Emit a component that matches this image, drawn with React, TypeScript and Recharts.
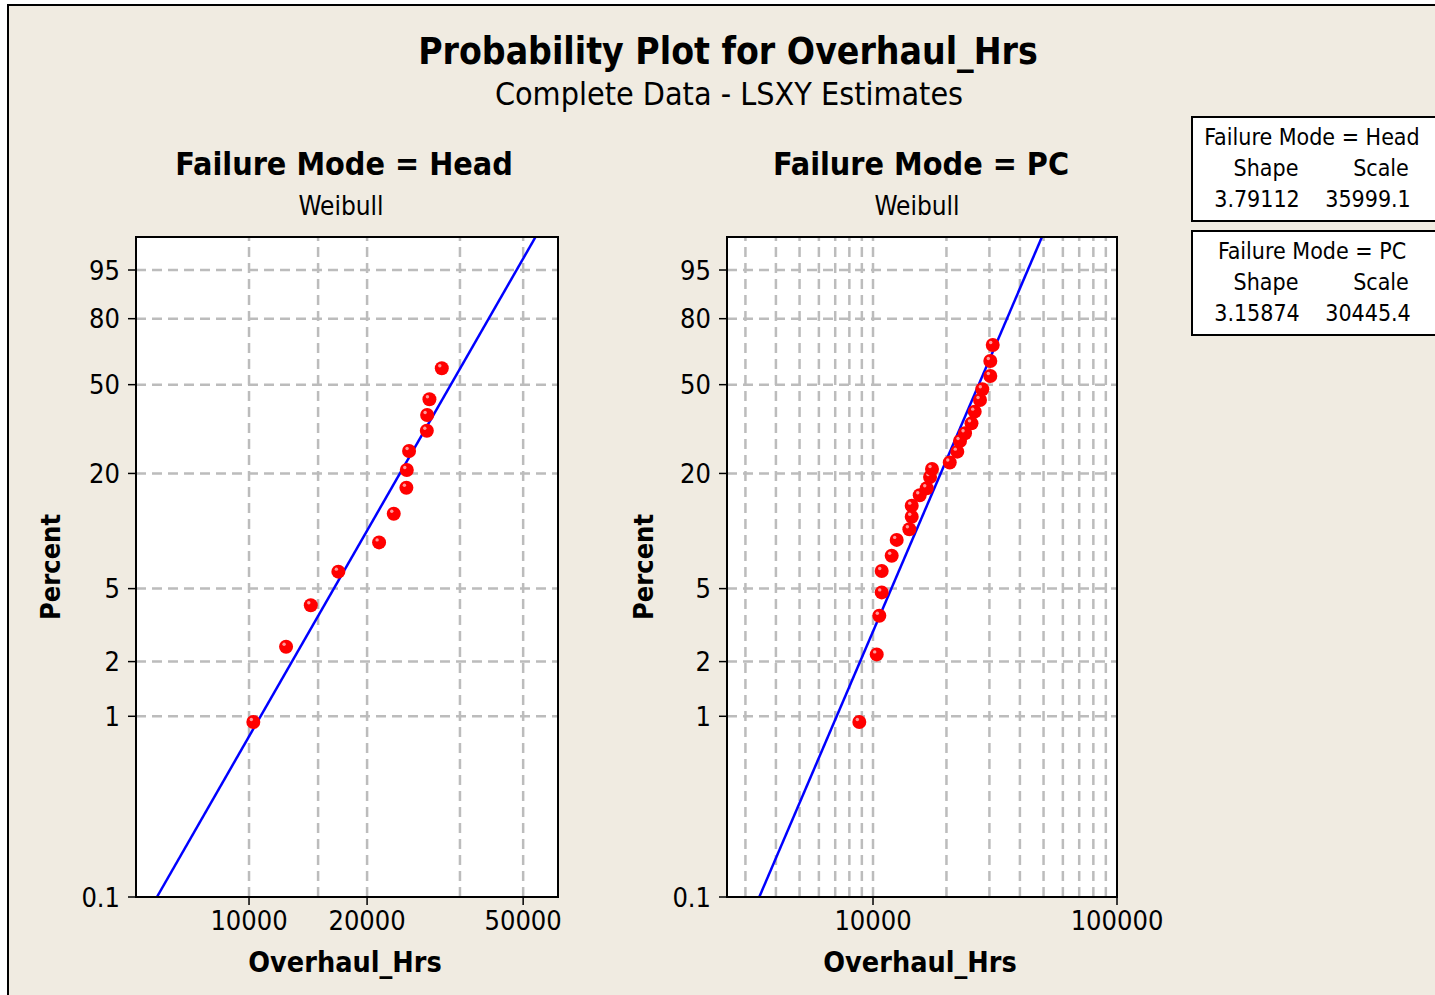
import React from 'react';
import { ScatterChart, Scatter, XAxis, YAxis, ReferenceLine } from 'recharts';

// Head failure mode: hours and plotted percent
const headHrs = [10256, 12430, 14370, 16895, 21460, 23390, 25190, 25250, 25590, 28400, 28450, 28840, 31010];
const headPct = [0.93, 2.41, 4.06, 6.17, 8.84, 12.49, 16.97, 20.79, 25.72, 31.97, 37.53, 43.73, 57.46];

// PC failure mode
const pcHrs = [8788, 10355, 10612, 10856, 10856, 11928, 12504, 14090, 14410, 14410, 15540, 16600, 17130,
  17450, 20630, 22150, 22730, 23830, 25330, 26110, 27450, 28050, 30250, 30250, 30950];
const pcPct = [0.93, 2.19, 3.56, 4.77, 6.22, 7.51, 9.11, 10.36, 12.05, 13.75, 15.53, 16.86, 19.21,
  21.04, 22.63, 25.52, 28.64, 31.11, 34.49, 38.8, 43.45, 47.99, 53.89, 60.85, 68.33];

// fitted Weibull lines (end points at the plot edges)
const headFitHrs = [5823, 53770];
const headFitPct = [0.1, 98.96];
const pcFitHrs = [3419, 49240];
const pcFitPct = [0.1, 98.96];

const yTickPct = [0.1, 1, 2, 5, 20, 50, 80, 95];
const yTickLabels = ['0.1', '1', '2', '5', '20', '50', '80', '95'];
const yGridPct = [1, 2, 5, 20, 50, 80, 95];

const headXTicks = [10000, 20000, 50000];
const headXGrid = [10000, 15000, 20000, 34500, 50000];
const pcXTicks = [10000, 100000];
const pcXGrid = [3000, 4000, 5000, 6000, 7000, 8000, 9000, 10000, 20000, 30000, 40000, 50000, 60000, 70000, 80000, 90000];

const FONT = "'DejaVu Sans Condensed', 'Noto Sans', sans-serif";
const BG = '#F0EBE1';
const GRID = '#bcbcbc';

// weibull probability paper transform
const weib = (p: number) => Math.log(-Math.log(1 - p / 100));
const Y_MIN = weib(0.1);
const Y_MAX = weib(98.96);

const toPoints = (hrs: number[], pct: number[]) => hrs.map((h, i) => ({ x: h, y: weib(pct[i]) }));

const yTickVals = yTickPct.map(weib);
const yFmt = (v: number) => {
  let best = 0;
  yTickVals.forEach((t, i) => { if (Math.abs(t - v) < Math.abs(yTickVals[best] - v)) best = i; });
  return yTickLabels[best];
};

const RedDot = (props: any) => {
  const { cx, cy } = props;
  if (cx == null || cy == null) return <g />;
  return (
    <g>
      <circle cx={cx} cy={cy} r={7} fill="#ff0000" />
      <circle cx={cx - 2} cy={cy - 2.5} r={1.7} fill="#ff9a9a" />
    </g>
  );
};

const NoDot = () => <g />;

interface PanelProps {
  left: number;
  plotWidth: number;
  domain: [number, number];
  xTicks: number[];
  xGrid: number[];
  points: { x: number; y: number }[];
  fit: { x: number; y: number }[];
}

const TOP = 200;
const H = 780;
const YW = 116;
const RM = 60;

const Panel = (props: PanelProps) => {
  const { left, plotWidth, domain, xTicks, xGrid, points, fit } = props;
  const width = YW + plotWidth + RM;
  return (
    <div style={{ position: 'absolute', left, top: TOP }}>
      <ScatterChart width={width} height={H} margin={{ top: 37, right: RM, left: 0, bottom: 0 }}>
        <XAxis
          type="number"
          dataKey="x"
          scale="log"
          domain={domain}
          allowDataOverflow
          ticks={xTicks}
          tickFormatter={(v: number) => String(v)}
          height={83}
          axisLine={false}
          tickLine={{ stroke: '#000', strokeWidth: 1.5 }}
          tickSize={8}
          tickMargin={6}
          tick={{ fill: '#000', fontSize: 27, fontFamily: FONT }}
          interval={0}
        />
        <YAxis
          type="number"
          dataKey="y"
          domain={[Y_MIN, Y_MAX]}
          allowDataOverflow
          ticks={yTickVals}
          tickFormatter={yFmt}
          width={YW}
          axisLine={false}
          tickLine={{ stroke: '#000', strokeWidth: 1.5 }}
          tickSize={8}
          tickMargin={8}
          tick={{ fill: '#000', fontSize: 27, fontFamily: FONT }}
          interval={0}
        />
        {xGrid.map((g) => (
          <ReferenceLine key={'x' + g} x={g} stroke={GRID} strokeWidth={2.5} strokeDasharray="10 6" />
        ))}
        {yGridPct.map((g) => (
          <ReferenceLine key={'y' + g} y={weib(g)} stroke={GRID} strokeWidth={2.5} strokeDasharray="10 6" />
        ))}
        <Scatter data={fit} line={{ stroke: '#0000ff', strokeWidth: 2.5 }} shape={NoDot} isAnimationActive={false} />
        <Scatter data={points} shape={RedDot} isAnimationActive={false} />
      </ScatterChart>
    </div>
  );
};

const Txt = (p: { x: number; y: number; size: number; bold?: boolean; children: React.ReactNode; rotate?: boolean }) => (
  <div
    style={{
      position: 'absolute',
      left: p.x,
      top: p.y,
      transform: `translate(-50%, -50%)${p.rotate ? ' rotate(-90deg)' : ''}`,
      fontFamily: FONT,
      fontSize: p.size,
      fontWeight: p.bold ? 'bold' : 'normal',
      lineHeight: 1,
      whiteSpace: 'nowrap',
      color: '#000',
    }}
  >
    {p.children}
  </div>
);

const PlotBox = (p: { left: number; right: number; border?: boolean }) => (
  <div
    style={{
      position: 'absolute',
      left: p.left - 1,
      top: 236,
      width: p.right - p.left + 2,
      height: 662,
      boxSizing: 'border-box',
      border: p.border ? '2px solid #000' : 'none',
      background: p.border ? 'transparent' : '#fff',
      pointerEvents: 'none',
    }}
  />
);

const LegendBox = (p: { top: number; mode: string; shape: string; scale: string }) => (
  <>
    <div
      style={{
        position: 'absolute',
        left: 1191,
        top: p.top,
        width: 270,
        height: 106,
        boxSizing: 'border-box',
        border: '2px solid #000',
        background: '#fff',
      }}
    />
    <Txt x={1312} y={p.top + 21} size={23}>{'Failure Mode = ' + p.mode}</Txt>
    <Txt x={1266} y={p.top + 52} size={23}>Shape</Txt>
    <Txt x={1381} y={p.top + 52} size={23}>Scale</Txt>
    <Txt x={1257} y={p.top + 83} size={23}>{p.shape}</Txt>
    <Txt x={1368} y={p.top + 83} size={23}>{p.scale}</Txt>
  </>
);

export default function App() {
  return (
    <div style={{ position: 'fixed', left: 0, top: 0, width: 1435, height: 995, overflow: 'hidden', background: '#fff' }}>
      <div
        style={{
          position: 'absolute',
          left: 7,
          top: 4,
          width: 1500,
          height: 1100,
          border: '2px solid #000',
          background: BG,
        }}
      />
      <Txt x={728} y={51} size={37} bold>Probability Plot for Overhaul_Hrs</Txt>
      <Txt x={729} y={94} size={32}>Complete Data - LSXY Estimates</Txt>

      <Txt x={344} y={164} size={32} bold>Failure Mode = Head</Txt>
      <Txt x={341} y={206} size={26}>Weibull</Txt>
      <Txt x={921} y={164} size={32} bold>Failure Mode = PC</Txt>
      <Txt x={917} y={206} size={26}>Weibull</Txt>

      <PlotBox left={136} right={558} />
      <PlotBox left={727} right={1117} />

      <Panel
        left={20}
        plotWidth={422}
        domain={[5150, 61350]}
        xTicks={headXTicks}
        xGrid={headXGrid}
        points={toPoints(headHrs, headPct)}
        fit={toPoints(headFitHrs, headFitPct)}
      />
      <Panel
        left={611}
        plotWidth={390}
        domain={[2521, 100000]}
        xTicks={pcXTicks}
        xGrid={pcXGrid}
        points={toPoints(pcHrs, pcPct)}
        fit={toPoints(pcFitHrs, pcFitPct)}
      />

      <PlotBox left={136} right={558} border />
      <PlotBox left={727} right={1117} border />

      <Txt x={50} y={567} size={27} bold rotate>Percent</Txt>
      <Txt x={643} y={567} size={27} bold rotate>Percent</Txt>
      <Txt x={345} y={963} size={28.5} bold>Overhaul_Hrs</Txt>
      <Txt x={920} y={963} size={28.5} bold>Overhaul_Hrs</Txt>

      <LegendBox top={116} mode="Head" shape="3.79112" scale="35999.1" />
      <LegendBox top={230} mode="PC" shape="3.15874" scale="30445.4" />
    </div>
  );
}
